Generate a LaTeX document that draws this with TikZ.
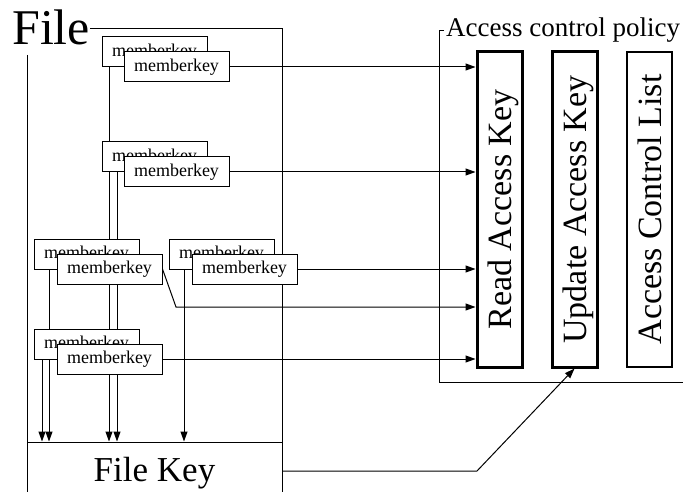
\documentclass[tikz,border=0pt]{standalone}
\usepackage{fontspec}
\setmainfont{Liberation Serif}
\usetikzlibrary{arrows.meta,calc}
\tikzset{
  conn/.style={line width=1pt},
  arr/.style={conn,-{Triangle[length=10pt,width=7pt]}},
  mkey/.style={draw,fill=white,line width=1pt,minimum width=105pt,minimum height=30pt,
    inner sep=0pt,font=\fontsize{18}{20}\selectfont},
  keycol/.style={draw,minimum width=315pt,minimum height=45pt,inner sep=0pt,rotate=90,
    text depth=0pt,font=\fontsize{34}{36}\selectfont},
}
\begin{document}
\begin{tikzpicture}[x=1pt,y=-1pt]
\clip (0,0) rectangle (683,492);
\fill[white] (0,0) rectangle (683,492);

% titles of the two frames
\node[inner sep=0pt,anchor=base west,font=\fontsize{50}{52}\selectfont] (filelbl) at (12,45) {File};
\node[inner sep=0pt,anchor=base west,font=\fontsize{27}{29}\selectfont] (acplbl) at (446,37) {Access control policy};

% File frame
\draw[conn] (filelbl.east |- 0,29) -- (282,29) -- (282,500);
\draw[conn] (27,55) -- (27,500);
% Access control policy frame
\draw[conn] (acplbl.west |- 0,31) ++(-2,0) -- (439,31) -- (439,382) -- (690,382);

% key columns (rotated: their north side faces left, their west side faces down)
\node[keycol,line width=3pt] (read) at (499.5,209.5) {Read Access Key};
\node[keycol,line width=3pt] (update) at (574.5,209.5) {Update Access Key};
\node[keycol,line width=1.5pt] (acl) at (649.5,209.5) {Access Control List};

% file key
\node[draw,line width=1pt,minimum width=255pt,minimum height=54pt,inner sep=0pt,
  text depth=0pt,font=\fontsize{35}{37}\selectfont] (filekey) at (154.5,469) {File Key};

% coordinates where the member-key chains leave their boxes
\coordinate (t1) at (109,67);
\coordinate (t2) at (117,172);
\coordinate (t3) at (49,269);
\coordinate (t4) at (42,359);
\coordinate (t5) at (184,269);

\draw[arr] (t1) -- (t1 |- filekey.north);
\draw[arr] (t2) -- (t2 |- filekey.north);
\draw[arr] (t3) -- (t3 |- filekey.north);
\draw[arr] (t4) -- (t4 |- filekey.north);
\draw[arr] (t5) -- (t5 |- filekey.north);

% member keys (back and front of each pair)
\node[mkey] (m1b) at (154.5,52) {memberkey};
\node[mkey] (m1f) at (176.5,67) {memberkey};
\node[mkey] (m2b) at (154.5,157) {memberkey};
\node[mkey] (m2f) at (176.5,172) {memberkey};
\node[mkey] (m3b) at (86.5,254) {memberkey};
\node[mkey] (m3f) at (109.5,269) {memberkey};
\node[mkey] (m5b) at (221.5,254) {memberkey};
\node[mkey] (m5f) at (244.5,269) {memberkey};
\node[mkey] (m4b) at (86.5,344) {memberkey};
\node[mkey] (m4f) at (109.5,359) {memberkey};

% member keys to the read access key
\draw[arr] (m1f.east) -- (m1f.east -| read.north);
\draw[arr] (m2f.east) -- (m2f.east -| read.north);
\draw[arr] (m5f.east) -- (m5f.east -| read.north);
\coordinate (kink) at (176,307);
\draw[arr] (m3f.east) -- (kink) -- (kink -| read.north);
\draw[arr] (m4f.east) -- (m4f.east -| read.north);

% file key to the update access key
\coordinate (fkout) at ([yshift=-2pt]filekey.east);
\coordinate (bend) at (477,471);
\draw[arr] (fkout) -- (bend) -- (update.west);
\end{tikzpicture}
\end{document}
